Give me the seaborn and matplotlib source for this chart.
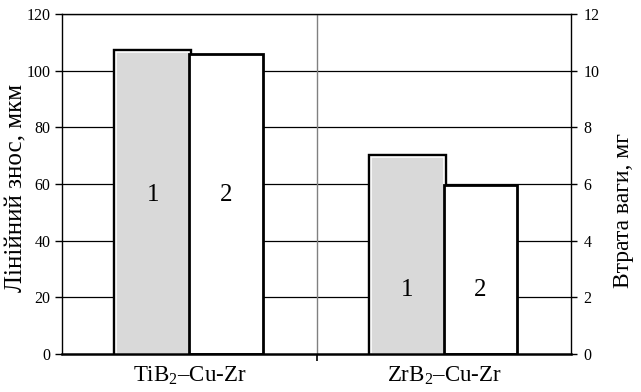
import matplotlib
matplotlib.use("Agg")
import matplotlib.pyplot as plt
from matplotlib.patches import Rectangle
import seaborn as sns
import pandas as pd

categories = ["TiB$_2$–Cu-Zr", "ZrB$_2$–Cu-Zr"]
series = ["1", "2"]
values_1 = [106.6, 69.5]
values_2 = [105.8, 59.8]
label_y = [56.0, 22.5]
left_ticks = [0, 20, 40, 60, 80, 100, 120]
right_ticks = [0, 2, 4, 6, 8, 10, 12]

df = pd.DataFrame({
    "cat": categories * 2,
    "ser": [series[0]] * 2 + [series[1]] * 2,
    "val": values_1 + values_2,
})

sns.set_style("white")
plt.rcParams["font.family"] = ["Liberation Serif", "DejaVu Serif"]
plt.rcParams["mathtext.fontset"] = "custom"
plt.rcParams["mathtext.rm"] = "Liberation Serif"
plt.rcParams["mathtext.it"] = "Liberation Serif"
plt.rcParams["text.color"] = "black"
plt.rcParams["xtick.color"] = "black"
plt.rcParams["ytick.color"] = "black"
plt.rcParams["axes.labelcolor"] = "black"

fig = plt.figure(figsize=(6.41, 3.92), dpi=100)
ax = fig.add_axes([0.097, 0.097, 0.794, 0.867])

ax.set_axisbelow(True)
for t in left_ticks[1:]:
    ax.axhline(t, color="black", lw=0.9, zorder=0)
ax.axvline(0.5, color="#808080", lw=1.0, zorder=0)

sns.barplot(data=df, x="cat", y="val", hue="ser", hue_order=series,
            palette=["#d9d9d9", "white"], width=0.575, dodge=True,
            edgecolor="black", linewidth=2, saturation=1, legend=False, ax=ax,
            zorder=2)

# gray bars: black outline outside a thin white inner rim
for p in ax.containers[0]:
    p.set_edgecolor("white")
    p.set_linewidth(1.2)
    back = Rectangle(p.get_xy(), p.get_width(), p.get_height(),
                     facecolor="black", edgecolor="black", linewidth=4.6,
                     zorder=1.9)
    ax.add_patch(back)
for p in ax.containers[1]:
    p.set_zorder(2.1)

# labels inside bars
for i, y in enumerate(label_y):
    for j, s in enumerate(series):
        ax.text(i + (j - 0.5) * 0.2875, y, s, ha="center", va="center",
                fontsize=18, zorder=5)

ax.set_xlim(-0.5, 1.5)
ax.set_ylim(0, 120)
ax.set_yticks(left_ticks)
ax.set_xticks([0, 1])
ax.set_xticks([0.5], minor=True)
ax.set_xticklabels(categories, fontsize=16.5)
ax.tick_params(axis="x", which="major", length=0, pad=8)
ax.tick_params(axis="x", which="minor", length=5, width=1.2, color="black", direction="out", bottom=True)
ax.tick_params(axis="y", length=5, width=1, color="black", direction="out", labelsize=11.5, left=True)
ax.set_xlabel("")
ax.set_ylabel("")

for side in ["left", "right", "top"]:
    ax.spines[side].set_color("black")
    ax.spines[side].set_linewidth(1.0)
ax.spines["bottom"].set_color("black")
ax.spines["bottom"].set_linewidth(1.8)
ax.spines["bottom"].set_zorder(3)

ax2 = ax.twinx()
ax2.set_ylim(0, 12)
ax2.set_yticks(right_ticks)
ax2.tick_params(axis="y", length=4, width=1, color="black", direction="out", labelsize=11.5, right=True, pad=5)
for side in ["left", "right", "top", "bottom"]:
    ax2.spines[side].set_visible(False)

fig.text(16 / 641, 1 - 188 / 392, "Лінійний знос, мкм", rotation=90,
         ha="center", va="center", fontsize=18)
fig.text(623 / 641, 1 - 211 / 392, "Втрата ваги, мг", rotation=90,
         ha="center", va="center", fontsize=17)

fig.savefig("out.png", dpi=100)
